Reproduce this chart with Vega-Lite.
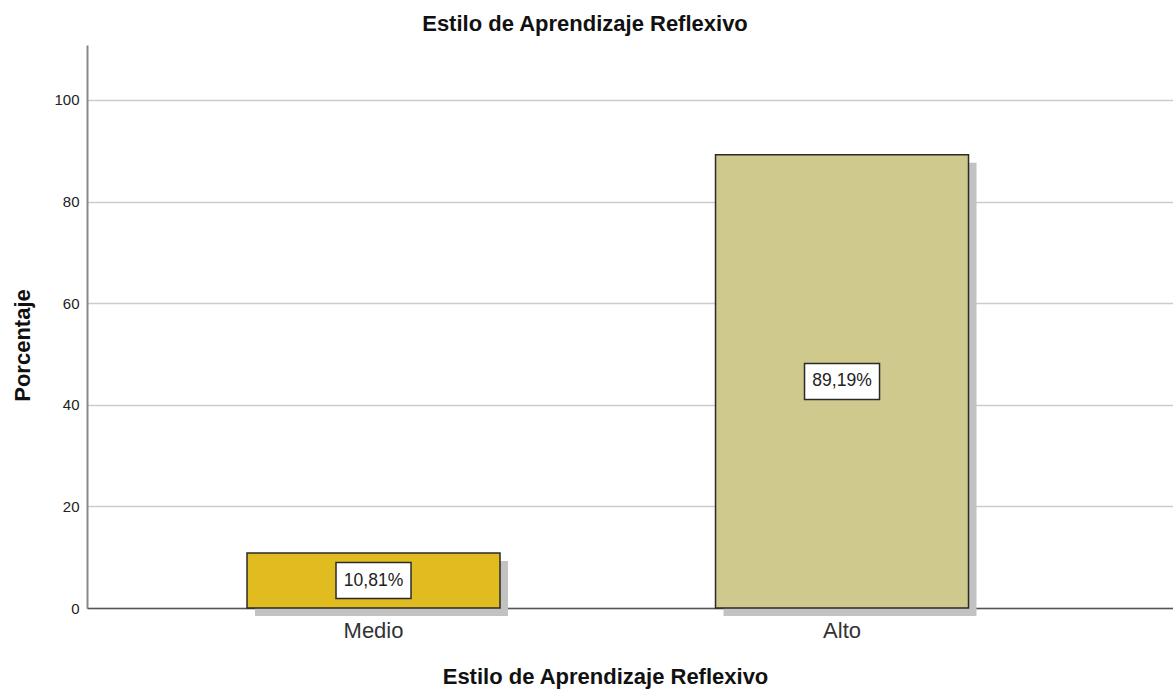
{
  "$schema": "https://vega.github.io/schema/vega-lite/v6.json",
  "width": 1086,
  "height": 563,
  "autosize": {"type": "none"},
  "padding": {"left": 87, "top": 45, "right": 0, "bottom": 81},
  "background": "white",
  "config": {"view": {"stroke": null}, "font": "Liberation Sans"},
  "title": {
    "text": "Estilo de Aprendizaje Reflexivo",
    "fontSize": 22,
    "fontWeight": "bold",
    "color": "#111",
    "anchor": "middle",
    "dx": -45,
    "offset": 9
  },
  "data": {
    "values": [
      {"nivel": "Medio", "pct": 10.81, "label": "10,81%"},
      {"nivel": "Alto", "pct": 89.19, "label": "89,19%"}
    ]
  },
  "encoding": {
    "x": {
      "field": "nivel",
      "type": "nominal",
      "sort": ["Medio", "Alto"],
      "scale": {"paddingInner": 0.46, "paddingOuter": 0.389, "align": 0.439},
      "axis": {
        "title": "Estilo de Aprendizaje Reflexivo",
        "titleFontSize": 22,
        "titleFontWeight": "bold",
        "titleColor": "#111",
        "titleX": 518,
        "titleY": 75,
        "titleBaseline": "alphabetic",
        "labelAngle": 0,
        "labelFontSize": 22,
        "labelColor": "#333",
        "labelPadding": 12,
        "ticks": false,
        "domainColor": "#555",
        "domainWidth": 1.5
      }
    }
  },
  "layer": [
    {
      "mark": {"type": "bar", "color": "#c2c2c2", "xOffset": 8, "yOffset": 8},
      "encoding": {
        "y": {"field": "pct", "type": "quantitative"}
      }
    },
    {
      "mark": {"type": "bar", "stroke": "#2a2a2a", "strokeWidth": 1.5},
      "encoding": {
        "y": {
          "field": "pct",
          "type": "quantitative",
          "scale": {"domain": [0, 110.8], "nice": false},
          "axis": {
            "title": "Porcentaje",
            "titleFontSize": 22,
            "titleFontWeight": "bold",
            "titleColor": "#111",
            "titleX": -58,
            "titleY": 300,
            "titleBaseline": "alphabetic",
            "values": [0, 20, 40, 60, 80, 100],
            "labelFontSize": 15,
            "labelColor": "#222",
            "labelPadding": 8,
            "ticks": false,
            "domainColor": "#888",
            "domainWidth": 2,
            "gridColor": "#cccccc",
            "gridWidth": 1.5
          }
        },
        "color": {
          "field": "nivel",
          "type": "nominal",
          "scale": {"domain": ["Medio", "Alto"], "range": ["#E1BC21", "#CFC98D"]},
          "legend": null
        }
      }
    },
    {
      "transform": [{"calculate": "datum.pct / 2", "as": "mid"}],
      "mark": {
        "type": "point",
        "shape": "M -1 -0.48 L 1 -0.48 L 1 0.48 L -1 0.48 Z",
        "size": 5625,
        "filled": true,
        "fill": "white",
        "stroke": "#2a2a2a",
        "strokeWidth": 1.5,
        "opacity": 1
      },
      "encoding": {
        "y": {"field": "mid", "type": "quantitative"}
      }
    },
    {
      "transform": [{"calculate": "datum.pct / 2", "as": "mid"}],
      "mark": {"type": "text", "fontSize": 17.5, "color": "#222", "baseline": "middle"},
      "encoding": {
        "y": {"field": "mid", "type": "quantitative"},
        "text": {"field": "label"}
      }
    }
  ]
}
